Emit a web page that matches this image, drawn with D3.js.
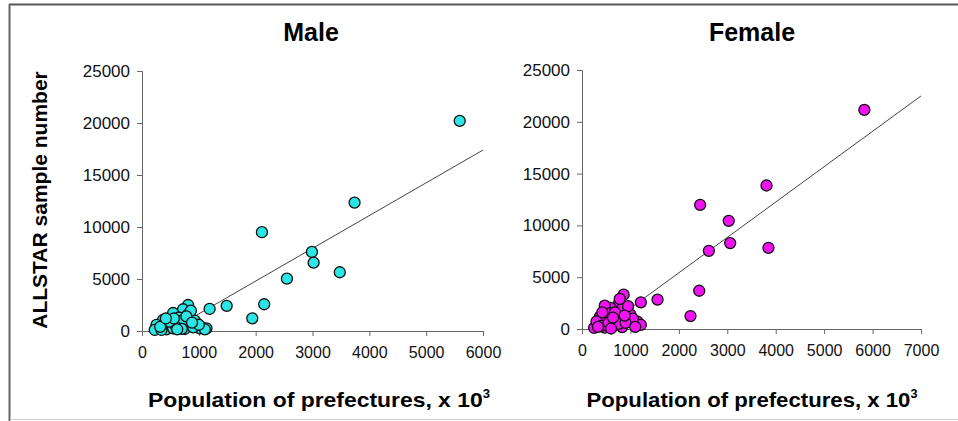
<!DOCTYPE html>
<html>
<head>
<meta charset="utf-8">
<script src="https://cdn.jsdelivr.net/npm/d3@7"></script>
<style>
  body { margin: 0; background: #fff; }
  svg { display: block; font-family: "Liberation Sans", Arial, sans-serif; }
</style>
</head>
<body>
<svg id="chart" width="958" height="421"></svg>
<script>
// population (x 10^3) and ALLSTAR samples
const malePop = [5590, 3740, 2110, 2990, 3020, 3480, 2550, 2150, 1490, 1190, 1940,
  811, 723, 811, 929, 1047, 1135, 753, 547, 370, 254, 488, 224, 430, 547, 1018, 1106,
  342, 607, 650, 700, 860, 780, 600, 700, 900, 480, 320, 560, 1000, 620, 420, 880];
const maleSamples = [20200, 12350, 9500, 7600, 6570, 5650, 5030, 2570, 2420, 2120, 1220,
  2500, 2090, 1610, 990, 360, 260, 190, 1730, 1060, 580, 580, 100, 160, 260, 260, 160,
  100, 740, 1300, 1000, 1950, 1400, 400, 200, 350, 900, 400, 1200, 600, 150, 1200, 800];

const femalePop = [5830, 3810, 2440, 3030, 3060, 3850, 2620, 2420, 2240, 1560, 1215,
  860, 770, 590, 830, 470, 370, 1000, 1150, 1215, 830, 635, 470, 250, 710, 505, 300,
  400, 560, 680, 950, 1050, 760, 900, 550, 330, 640, 1100, 420, 780, 880, 600];
const femaleSamples = [21150, 13850, 11980, 10440, 8290, 7840, 7550, 3690, 1250, 2830, 2570,
  3310, 2570, 2030, 1960, 2250, 1190, 1380, 700, 390, 190, 250, 130, 100, 900, 900, 730,
  300, 1500, 1600, 2200, 1000, 500, 600, 600, 200, 1100, 200, 1600, 2900, 1300, 50];

const yTicks = [0, 5000, 10000, 15000, 20000, 25000];
const maleXTicks = [0, 1000, 2000, 3000, 4000, 5000, 6000];
const femaleXTicks = [0, 1000, 2000, 3000, 4000, 5000, 6000, 7000];

// linear trend lines: [slope, intercept, fromX, toX]
const maleTrend = [3.15, -1500, 500, 6000];
const femaleTrend = [3.414, -1402, 420, 7000];

const svg = d3.select("#chart");

// frame
svg.append("line").attr("x1", 9).attr("x2", 958).attr("y1", 4.5).attr("y2", 4.5)
  .attr("stroke", "#555").attr("stroke-width", 2);
svg.append("line").attr("x1", 9.5).attr("x2", 9.5).attr("y1", 4).attr("y2", 421)
  .attr("stroke", "#666").attr("stroke-width", 2);
svg.append("line").attr("x1", 10).attr("x2", 958).attr("y1", 419.5).attr("y2", 419.5)
  .attr("stroke", "#d0d0d0").attr("stroke-width", 1);

function panel(opt) {
  const x = d3.scaleLinear().domain([0, d3.max(opt.xTicks)]).range([opt.left, opt.right]);
  const y = d3.scaleLinear().domain([0, 25000]).range([opt.bottom, opt.top]);
  const g = svg.append("g");

  const yAxis = g.append("g").attr("transform", `translate(${opt.left},0)`)
    .call(d3.axisLeft(y).tickValues(yTicks).tickSize(5).tickPadding(7).tickFormat(d3.format("d")));
  const xAxis = g.append("g").attr("transform", `translate(0,${opt.bottom})`)
    .call(d3.axisBottom(x).tickValues(opt.xTicks).tickSize(5).tickPadding(11).tickFormat(d3.format("d")));
  [yAxis, xAxis].forEach(a => {
    a.select(".domain").attr("stroke", "#666");
    a.selectAll(".tick line").attr("stroke", "#666");
    a.selectAll("text").attr("fill", "#111")
      .style("font-family", "'Liberation Sans', Arial, sans-serif");
  });
  yAxis.selectAll("text").style("font-size", "17px");
  xAxis.selectAll("text").style("font-size", opt.xTickFont + "px");

  const t = opt.trend;
  g.append("line")
    .attr("x1", x(t[2])).attr("y1", y(t[0] * t[2] + t[1]))
    .attr("x2", x(t[3])).attr("y2", y(t[0] * t[3] + t[1]))
    .attr("stroke", "#444").attr("stroke-width", 1);

  g.selectAll("circle").data(opt.xs).enter().append("circle")
    .attr("cx", d => x(d))
    .attr("cy", (d, i) => y(opt.ys[i]))
    .attr("r", 5.5)
    .attr("fill", opt.color)
    .attr("stroke", "#111")
    .attr("stroke-width", 1.3);

  g.append("text").attr("x", opt.titleX).attr("y", 41).attr("text-anchor", "middle")
    .style("font-size", "25px").style("font-weight", "bold").text(opt.title);

  const xl = g.append("text").attr("x", opt.labelX).attr("y", 407)
    .attr("text-anchor", "middle").style("font-size", "21px").style("font-weight", "bold")
    .attr("textLength", opt.labelW).attr("lengthAdjust", "spacingAndGlyphs");
  xl.append("tspan").text("Population of prefectures, x 10");
  xl.append("tspan").attr("dy", -9).style("font-size", "12px").text("3");
}

panel({
  xs: malePop, ys: maleSamples, xTicks: maleXTicks, trend: maleTrend,
  left: 142, right: 483, top: 71, bottom: 331, color: "#2ae6e6",
  title: "Male", titleX: 311, xTickFont: 16, labelX: 319, labelW: 342
});
panel({
  xs: femalePop, ys: femaleSamples, xTicks: femaleXTicks, trend: femaleTrend,
  left: 582, right: 921, top: 70, bottom: 329, color: "#f012f0",
  title: "Female", titleX: 752, xTickFont: 16, labelX: 752, labelW: 331
});

svg.append("text")
  .attr("transform", "translate(47,200) rotate(-90)")
  .attr("text-anchor", "middle")
  .style("font-size", "21px").style("font-weight", "bold")
  .text("ALLSTAR sample number");
</script>
</body>
</html>
